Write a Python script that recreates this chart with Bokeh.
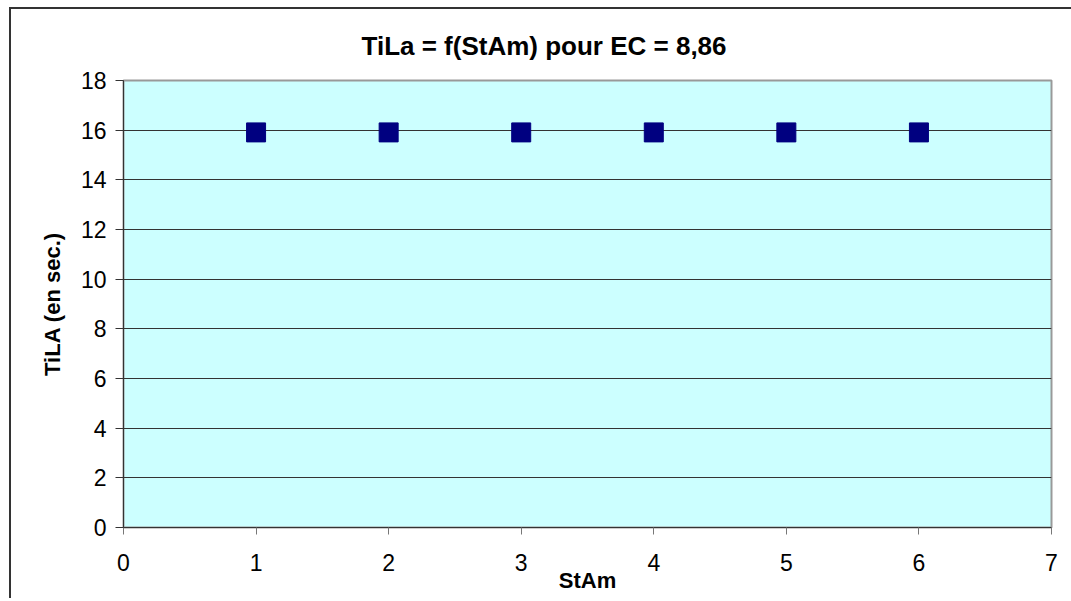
from bokeh.plotting import figure
from bokeh.models import Range1d, FixedTicker, ColumnDataSource
from bokeh.embed import file_html
from bokeh.resources import INLINE

# data
stam = [1, 2, 3, 4, 5, 6]
tila = [15.91, 15.91, 15.91, 15.91, 15.91, 15.91]
x_ticks = [0, 1, 2, 3, 4, 5, 6, 7]
y_ticks = [0, 2, 4, 6, 8, 10, 12, 14, 16, 18]
title_text = "TiLa = f(StAm) pour EC = 8,86"
x_label = "StAm"
y_label = "TiLA (en sec.)"

FONT = "Liberation Sans"

p = figure(width=1062, height=591, output_backend="svg", toolbar_location=None,
           x_range=Range1d(0, 7), y_range=Range1d(0, 18),
           min_border_left=112, min_border_right=22, min_border_top=71, min_border_bottom=73)
p.styles = {"margin-left": "9px", "margin-top": "7px",
            "border-top": "2px solid #333333", "border-left": "2px solid #333333"}

p.background_fill_color = "#CCFFFF"
p.border_fill_color = "white"
p.outline_line_color = "#999999"
p.outline_line_width = 2

p.title.text = title_text
p.title.text_font = FONT
p.title.text_font_size = "26px"
p.title.text_font_style = "bold"
p.title.align = "left"
p.title.offset = 238
p.title.standoff = 39
p.title.text_color = "black"

p.xgrid.grid_line_color = None
p.ygrid.ticker = FixedTicker(ticks=y_ticks)
p.ygrid.grid_line_color = "#333333"
p.ygrid.grid_line_width = 1

for ax in (p.xaxis[0], p.yaxis[0]):
    ax.major_label_text_font = FONT
    ax.major_label_text_font_size = "23px"
    ax.major_label_text_color = "black"
    ax.axis_label_text_font = FONT
    ax.axis_label_text_font_size = "22px"
    ax.axis_label_text_font_style = "bold"
    ax.axis_label_text_color = "black"
    ax.axis_line_color = "#333333"
    ax.major_tick_in = 0
    ax.minor_tick_line_color = None

p.xaxis[0].ticker = FixedTicker(ticks=x_ticks)
p.xaxis[0].major_tick_out = 7
p.xaxis[0].major_tick_line_color = "#777777"
p.xaxis[0].major_label_standoff = 19
p.xaxis[0].axis_label = x_label
p.xaxis[0].axis_label_standoff = -6

p.yaxis[0].ticker = FixedTicker(ticks=y_ticks)
p.yaxis[0].major_tick_out = 8
p.yaxis[0].major_tick_line_color = "#333333"
p.yaxis[0].major_label_standoff = 9
p.yaxis[0].axis_label = y_label
p.yaxis[0].axis_label_standoff = 13

src = ColumnDataSource(data=dict(x=stam, y=tila))
p.scatter("x", "y", source=src, marker="square", size=19,
          fill_color="#000080", line_color="#000080")

open("out.html", "w").write(file_html(p, INLINE))
